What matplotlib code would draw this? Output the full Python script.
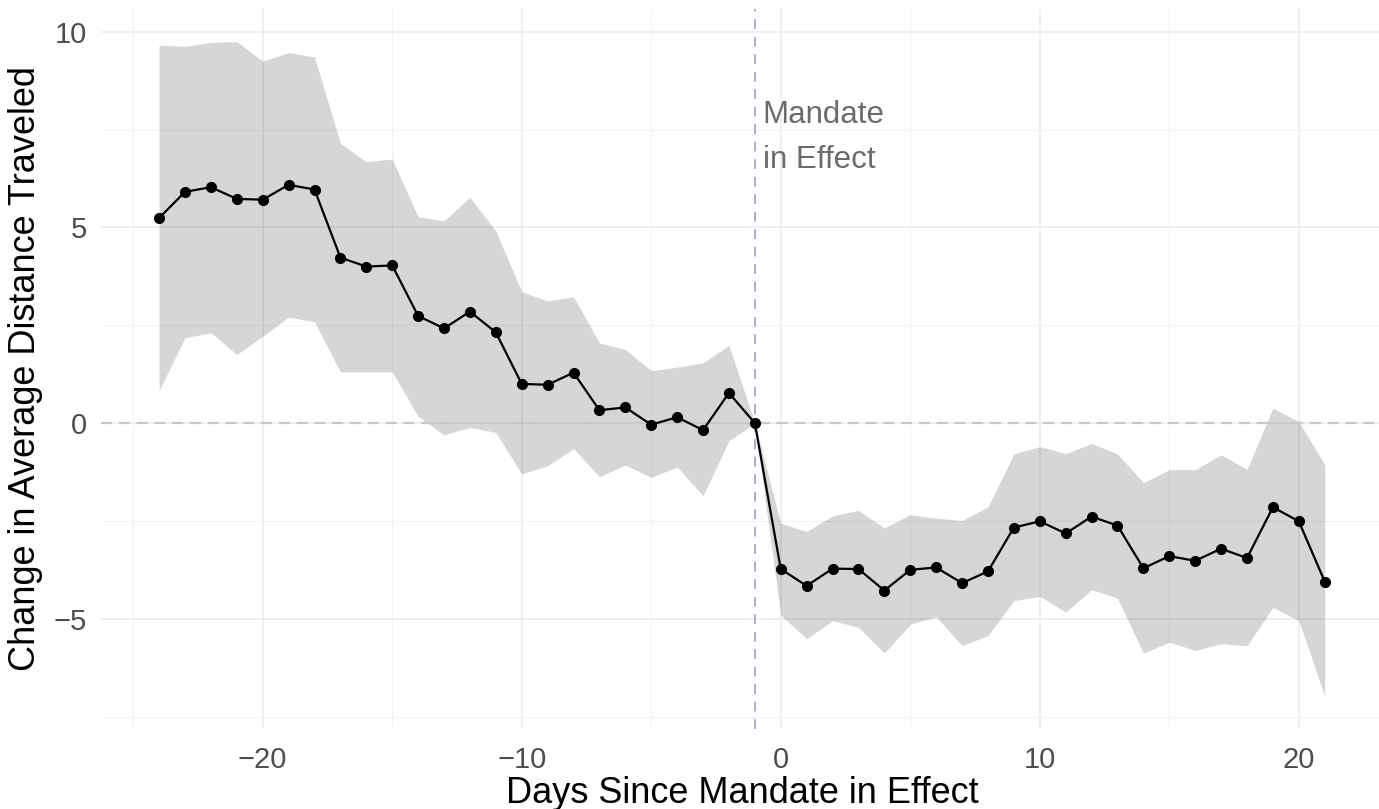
import matplotlib
matplotlib.use("Agg")
import matplotlib.pyplot as plt

plt.rcParams['font.family'] = ['Liberation Sans', 'DejaVu Sans']

# days relative to mandate (reference day = -1)
days = list(range(-24, 22))

estimate = [5.24, 5.91, 6.03, 5.73, 5.71, 6.09, 5.97, 4.23, 4.00, 4.03,
            2.74, 2.42, 2.85, 2.32, 1.00, 0.98, 1.29, 0.33, 0.40, -0.04,
            0.15, -0.18, 0.77, 0.00,
            -3.73, -4.16, -3.72, -3.73, -4.28, -3.75, -3.69, -4.09, -3.79, -2.67,
            -2.51, -2.82, -2.39, -2.62, -3.71, -3.40, -3.52, -3.21, -3.45, -2.15,
            -2.51, -4.05]

upper = [9.66, 9.63, 9.73, 9.75, 9.25, 9.47, 9.36, 7.15, 6.68, 6.75,
         5.27, 5.17, 5.77, 4.91, 3.36, 3.12, 3.23, 2.05, 1.88, 1.34,
         1.43, 1.54, 1.99, 0.00,
         -2.56, -2.77, -2.37, -2.23, -2.68, -2.34, -2.43, -2.49, -2.14, -0.79,
         -0.60, -0.78, -0.52, -0.79, -1.52, -1.19, -1.19, -0.81, -1.18, 0.38,
         0.04, -1.06]

lower = [0.83, 2.18, 2.31, 1.75, 2.22, 2.71, 2.59, 1.31, 1.31, 1.31,
         0.17, -0.30, -0.11, -0.24, -1.30, -1.09, -0.65, -1.37, -1.07, -1.39,
         -1.12, -1.86, -0.45, 0.00,
         -4.91, -5.51, -5.05, -5.22, -5.88, -5.14, -4.95, -5.69, -5.43, -4.54,
         -4.43, -4.83, -4.26, -4.47, -5.88, -5.60, -5.81, -5.64, -5.69, -4.71,
         -5.05, -6.98]

mandate_day = -1

fig = plt.figure(figsize=(13.79, 8.09), dpi=100)
# panel runs a few px past the right edge, like the (cropped) original
ax = fig.add_axes([0.0731, 0.099, 0.9298, 0.890])

# ggplot-like 5% expansion
xr = max(days) - min(days)
ax.set_xlim(min(days) - 0.05 * xr, max(days) + 0.05 * xr)
lo, hi = min(lower), max(upper)
ax.set_ylim(lo - 0.05 * (hi - lo), hi + 0.05 * (hi - lo))

# grid (theme_minimal)
ax.set_xticks([-20, -10, 0, 10, 20])
ax.set_yticks([-5, 0, 5, 10])
ax.set_xticks([-25, -15, -5, 5, 15], minor=True)
ax.set_yticks([-7.5, -2.5, 2.5, 7.5], minor=True)
ax.grid(True, which='major', color='#EBEBEB', linewidth=1.1)
ax.grid(True, which='minor', color='#F2F2F2', linewidth=0.8)
ax.set_axisbelow(True)
for s in ax.spines.values():
    s.set_visible(False)
ax.tick_params(which='both', length=0)
ax.tick_params(axis='both', labelsize=21, labelcolor='#4D4D4D')
ax.tick_params(axis='x', pad=12)
ax.tick_params(axis='y', pad=10)

ax.fill_between(days, lower, upper, color='black', alpha=0.16, linewidth=0, zorder=1)
ax.axhline(0, color='#C8C8C8', linestyle=(0, (5, 3)), linewidth=1.6, zorder=2)
ax.axvline(mandate_day, color='#ABABDB', linestyle=(0, (5, 4)), linewidth=1.4, zorder=2)

ax.plot(days, estimate, color='black', linewidth=1.6, zorder=3)
ax.plot(days, estimate, 'o', color='black', markersize=7, zorder=4)

ax.text(mandate_day + 0.3, 7.3, "Mandate\nin Effect", fontsize=22.5, color='#6B6B6B',
        ha='left', va='center', linespacing=1.65)

ax.set_xlabel("Days Since Mandate in Effect", fontsize=26, labelpad=2)
ax.set_ylabel("Change in Average Distance Traveled", fontsize=26, labelpad=8)

fig.savefig("out.png", dpi=100)
